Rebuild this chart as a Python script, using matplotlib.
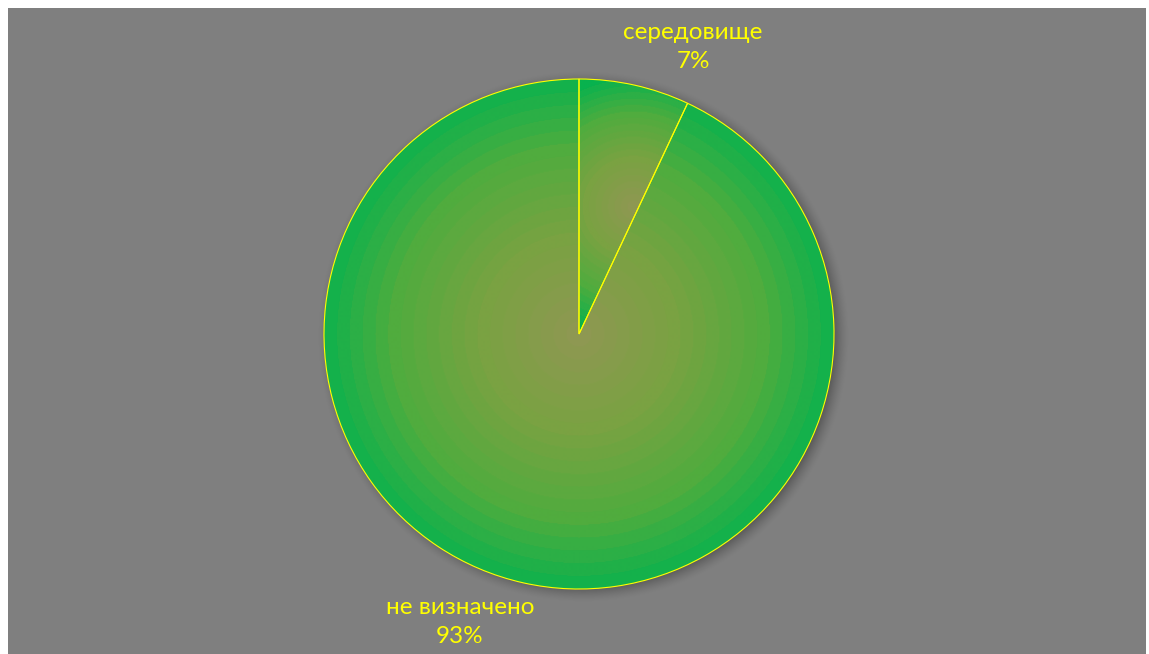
import numpy as np
import matplotlib
matplotlib.use("Agg")
import matplotlib.pyplot as plt
from matplotlib.patches import Rectangle

# share of records by category
labels = ["середовище", "не визначено"]
shares = [7, 93]

W, H = 1149, 654
bg_gray = "#7f7f7f"
label_yellow = "#ffff00"

# gradient stops: centre olive -> yellowish green -> green rim
grad_pos = [0.0, 0.35, 0.7, 1.0]
grad_rgb = np.array([[142, 152, 82], [122, 162, 66], [80, 172, 62], [8, 178, 78]]) / 255.0

fig = plt.figure(figsize=(W / 100, H / 100), dpi=100, facecolor="white")
ax = fig.add_axes([0, 0, 1, 1])

# grey plot area inside the white frame
ax.add_patch(Rectangle((8, 0), 1138, 646, facecolor=bg_gray, edgecolor="none", zorder=0))

cx, cy, R = 579, 320, 255

wedges, _ = ax.pie(shares, center=(cx, cy), radius=R, startangle=90, counterclock=False,
                   colors=["none", "none"],
                   wedgeprops=dict(edgecolor=label_yellow, linewidth=0.8, zorder=3))


def radial_fill(wedge, steps=20):
    # radial gradient centred on the wedge's own bounding box, banded in rings
    bb = wedge.get_path().get_extents()
    x0, y0, x1, y1 = bb.x0, bb.y0, bb.x1, bb.y1
    mx, my = (x0 + x1) / 2, (y0 + y1) / 2
    rad = max(x1 - x0, y1 - y0) / 2
    nx, ny = int(x1 - x0) + 2, int(y1 - y0) + 2
    gx, gy = np.meshgrid(np.linspace(x0, x1, nx), np.linspace(y0, y1, ny))
    t = np.clip(np.hypot(gx - mx, gy - my) / rad, 0, 1)
    t = np.floor(t * steps) / steps
    img = np.stack([np.interp(t, grad_pos, grad_rgb[:, c]) for c in range(3)], axis=-1)
    im = ax.imshow(img, extent=(x0, x1, y0, y1), origin="lower", interpolation="bilinear", zorder=2)
    im.set_clip_path(wedge)


# soft drop shadow behind the pie
sx, sy, blur = cx + 4, cy - 3, 11
ext = (cx - R - 30, cx + R + 30, cy - R - 30, cy + R + 30)
gx, gy = np.meshgrid(np.arange(ext[0], ext[1]), np.arange(ext[2], ext[3]))
d = np.hypot(gx - sx, gy - sy)
alpha = np.clip((R + blur - d) / (2 * blur), 0, 1) ** 1.5 * 0.5
shadow = np.zeros(d.shape + (4,))
shadow[..., 3] = alpha
ax.imshow(shadow, extent=ext, origin="lower", interpolation="bilinear", zorder=1)

for w in wedges:
    radial_fill(w)

ax.set_xlim(0, W)
ax.set_ylim(0, H)
ax.set_aspect("auto")
ax.axis("off")

label_pos = [(693, 607), (460, 32)]
for name, val, (lx, ly) in zip(labels, shares, label_pos):
    ax.text(lx, ly, f"{name}\n{val}%", ha="center", va="center", color=label_yellow,
            fontsize=17.5, family="Lato", linespacing=1.5, zorder=4)

fig.savefig("out.png", dpi=100, facecolor="white")
